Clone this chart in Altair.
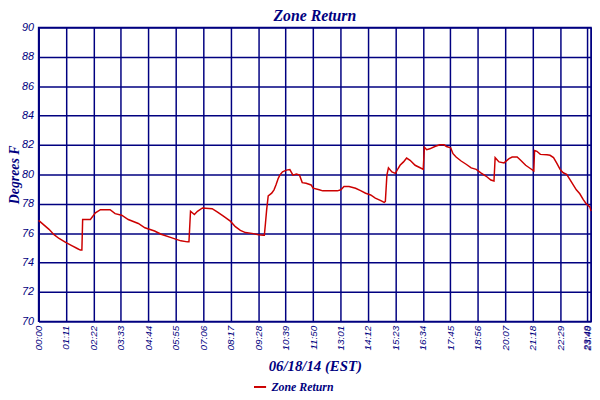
import altair as alt
import pandas as pd

# time in minutes after midnight, 06/18/14 (EST)
minutes = [0, 27, 40, 53, 70, 87, 100, 108, 112, 114, 134, 147, 160, 185, 198, 215, 232,
           258, 275, 300, 317, 343, 368, 385, 389, 393, 403, 411, 424, 449, 462, 479, 496,
           509, 522, 535, 556, 569, 582, 584, 587, 590, 594, 603, 609, 614, 620, 624, 631,
           641, 650, 658, 667, 675, 682, 692, 705, 710, 726, 735, 773, 782, 790, 803, 820,
           833, 846, 859, 871, 884, 894, 897, 901, 905, 914, 923, 930, 935, 944, 952, 961,
           974, 987, 995, 998, 1004, 1012, 1025, 1038, 1049, 1055, 1066, 1072, 1080, 1093,
           1106, 1119, 1132, 1144, 1157, 1170, 1178, 1181, 1191, 1204, 1217, 1225, 1238,
           1247, 1260, 1272, 1281, 1283, 1289, 1298, 1315, 1323, 1332, 1340, 1349, 1357,
           1366, 1375, 1383, 1391, 1400, 1409, 1417, 1426, 1429]
temps = [76.87, 76.26, 75.9, 75.64, 75.37, 75.14, 74.96, 74.85, 74.85, 76.93, 76.93, 77.38,
         77.6, 77.6, 77.33, 77.22, 76.93, 76.66, 76.37, 76.15, 75.93, 75.7, 75.48, 75.41,
         75.41, 77.49, 77.27, 77.49, 77.72, 77.67, 77.45, 77.15, 76.82, 76.44, 76.19, 76.04,
         75.97, 75.9, 75.86, 75.86, 76.71, 77.6, 78.54, 78.72, 78.95, 79.28, 79.73, 79.95,
         80.17, 80.29, 80.33, 79.95, 80.02, 79.95, 79.44, 79.4, 79.28, 79.06, 78.95, 78.88,
         78.88, 78.95, 79.17, 79.17, 79.06, 78.9, 78.72, 78.6, 78.39, 78.23, 78.09, 78.16,
         79.95, 80.45, 80.17, 80.07, 80.4, 80.62, 80.85, 81.11, 80.96, 80.62, 80.45, 80.34,
         81.85, 81.68, 81.74, 81.9, 82.01, 82.01, 81.9, 81.81, 81.41, 81.18, 80.91, 80.69,
         80.44, 80.34, 80.11, 79.89, 79.62, 79.55, 81.14, 80.85, 80.78, 81.07, 81.18, 81.18,
         80.96, 80.62, 80.4, 80.24, 81.63, 81.57, 81.36, 81.33, 81.3, 81.14, 80.78, 80.34,
         80.11, 80.0, 79.62, 79.28, 78.95, 78.68, 78.28, 77.99, 77.79, 77.5]

tick_minutes = [0, 71, 142, 213, 284, 355, 426, 497, 568, 639, 710, 781, 852, 923, 994,
                1065, 1136, 1207, 1278, 1349, 1420, 1429]
tick_labels = ["00:00", "01:11", "02:22", "03:33", "04:44", "05:55", "07:06", "08:17",
               "09:28", "10:39", "11:50", "13:01", "14:12", "15:23", "16:34", "17:45",
               "18:56", "20:07", "21:18", "22:29", "23:40", "23:49"]
y_ticks = [70, 72, 74, 76, 78, 80, 82, 84, 86, 88, 90]

df = pd.DataFrame({"minute": minutes, "temp": temps, "series": "Zone Return"})

NAVY = "#000080"
SERIF = "Liberation Serif"
label_expr = "[" + ",".join("'%s'" % t for t in tick_labels) + "][indexof([" + \
    ",".join(str(v) for v in tick_minutes) + "], datum.value)]"
last_tick = tick_minutes[-1]

chart = alt.Chart(df).mark_line(strokeWidth=1.5, interpolate="linear").encode(
    x=alt.X("minute:Q",
            scale=alt.Scale(domain=[0, last_tick], nice=False, zero=False),
            axis=alt.Axis(values=tick_minutes, labelExpr=label_expr, labelAngle=-90,
                          labelAlign="right",
                          labelBaseline={"condition": {"test": "datum.value == %d" % last_tick,
                                                       "value": "bottom"},
                                         "value": "middle"},
                          labelFont="Liberation Sans", labelFontStyle="italic",
                          labelFontSize=10, labelColor=NAVY, labelPadding=4,
                          labelOverlap=False, labelBound=False, labelFlush=False,
                          ticks=False, grid=True, gridColor=NAVY, gridWidth=1.5,
                          gridOpacity=1, domainColor=NAVY, domainWidth=1.5,
                          title="06/18/14 (EST)", titleFont=SERIF,
                          titleFontStyle="italic", titleFontWeight="bold",
                          titleFontSize=15, titleColor=NAVY, titlePadding=9)),
    y=alt.Y("temp:Q",
            scale=alt.Scale(domain=[70, 90], nice=False, zero=False),
            axis=alt.Axis(values=y_ticks, labelFont="Liberation Sans",
                          labelFontStyle="italic", labelFontSize=11, labelColor=NAVY,
                          labelPadding=5, ticks=False, grid=True, gridColor=NAVY,
                          gridWidth=1.5, gridOpacity=1, domainColor=NAVY,
                          domainWidth=1.5, title="Degrees F",
                          titleFont=SERIF, titleFontStyle="italic",
                          titleFontWeight="bold", titleFontSize=14, titleColor=NAVY,
                          titlePadding=0)),
    color=alt.Color("series:N",
                    scale=alt.Scale(range=["#CC0000"]),
                    legend=alt.Legend(title=None, orient="none", legendX=217,
                                      legendY=357, symbolType="stroke",
                                      symbolStrokeWidth=2, symbolSize=150,
                                      labelFont=SERIF,
                                      labelFontStyle="italic", labelFontWeight="bold",
                                      labelFontSize=12, labelColor=NAVY)),
).properties(
    width=560,
    height=298,
    title=alt.TitleParams("Zone Return", font=SERIF, fontSize=16,
                          fontStyle="italic", fontWeight="bold", color=NAVY,
                          anchor="middle", offset=0, dy=3),
    autosize=alt.AutoSizeParams(type="none"),
    padding={"left": 31, "top": 17, "right": 1, "bottom": 75},
).configure_view(stroke=NAVY, strokeWidth=1.5)

chart.save("out.html", embed_options={"renderer": "svg", "actions": False})
